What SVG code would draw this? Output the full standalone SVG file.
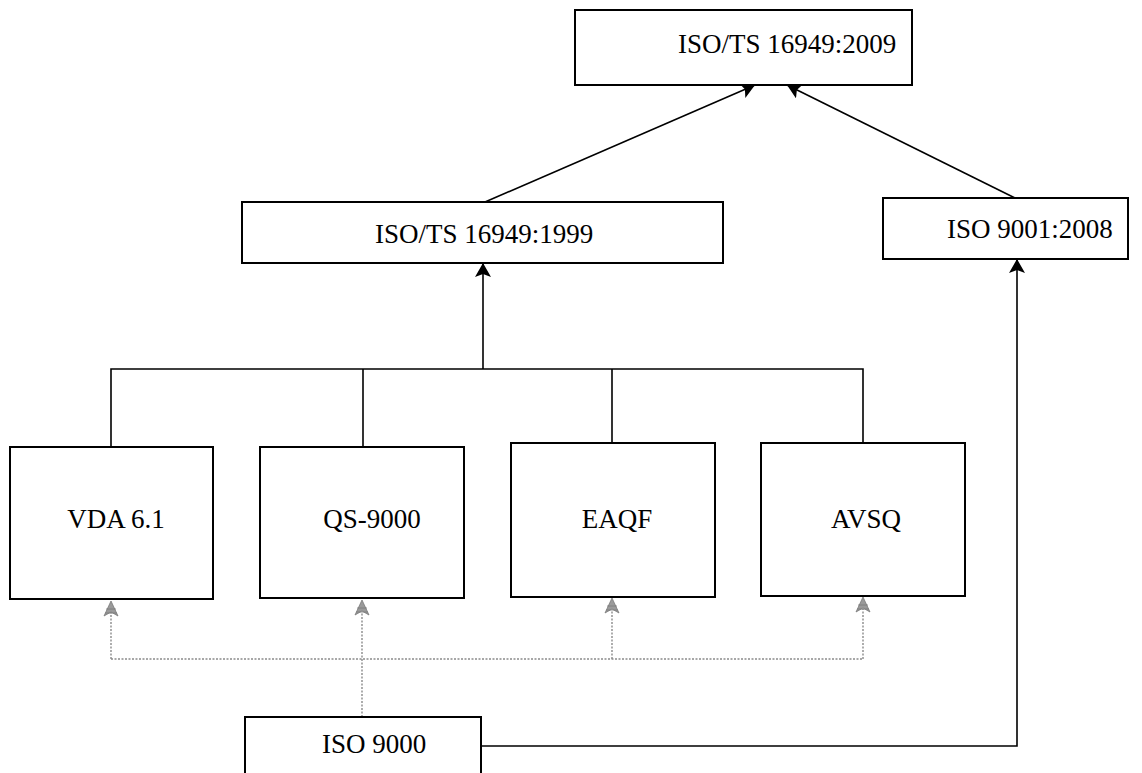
<svg xmlns="http://www.w3.org/2000/svg" width="1142" height="773" viewBox="0 0 1142 773">
<defs>
<style>
.box{fill:#fff;stroke:#000;stroke-width:2}
.t{font-family:"Liberation Serif","Times New Roman",serif;font-size:27px;fill:#000}
.c{fill:none;stroke:#000;stroke-width:1.6}
.d{fill:none;stroke:#8a8a8a;stroke-width:1.4;stroke-dasharray:2 1.5}
.ga{fill:#9a9a9a;stroke:#7a7a7a;stroke-width:0.8}
</style>
<marker id="ahs" markerWidth="14" markerHeight="16" viewBox="0 0 14 16" refX="14" refY="8" orient="auto" markerUnits="userSpaceOnUse">
<path d="M0,0 L14,8 L0,16 L3,8 Z" fill="#000"/>
</marker>
<path id="garrow" d="M0,0 L7,15 L0,11 L-7,15 Z M-5,8 L5,8 M-6,12 L6,12"/>
</defs>
<rect width="1142" height="773" fill="#fff"/>
<g id="connectors">
<line class="c" x1="485" y1="202" x2="755" y2="85" marker-end="url(#ahs)"/>
<line class="c" x1="1015" y1="198" x2="787" y2="85" marker-end="url(#ahs)"/>
<polyline class="c" points="111,447 111,369 863,369 863,443"/>
<line class="c" x1="363" y1="369" x2="363" y2="447"/>
<line class="c" x1="612" y1="369" x2="612" y2="443"/>
<line class="c" x1="483" y1="369" x2="483" y2="263" marker-end="url(#ahs)"/>
<polyline class="c" points="481,746 1017,746 1017,259" marker-end="url(#ahs)"/>
<line class="d" x1="111" y1="659" x2="863" y2="659"/>
<line class="d" x1="362" y1="717" x2="362" y2="612"/>
<line class="d" x1="111" y1="659" x2="111" y2="612"/>
<line class="d" x1="612" y1="659" x2="612" y2="610"/>
<line class="d" x1="863" y1="659" x2="863" y2="609"/>
<use href="#garrow" class="ga" x="111" y="601"/>
<use href="#garrow" class="ga" x="362" y="600"/>
<use href="#garrow" class="ga" x="612" y="598"/>
<use href="#garrow" class="ga" x="863" y="597"/>
</g>
<g id="n-iso16949-2009">
<rect class="box" x="575" y="10" width="337" height="75"/>
<text class="t" x="678" y="53">ISO/TS 16949:2009</text>
</g>
<g id="n-iso16949-1999">
<rect class="box" x="242" y="202" width="481" height="61"/>
<text class="t" x="375" y="243">ISO/TS 16949:1999</text>
</g>
<g id="n-iso9001">
<rect class="box" x="883" y="198" width="245" height="61"/>
<text class="t" x="947" y="238">ISO 9001:2008</text>
</g>
<g id="n-vda">
<rect class="box" x="10" y="447" width="203" height="152"/>
<text class="t" x="116" y="528" text-anchor="middle">VDA 6.1</text>
</g>
<g id="n-qs">
<rect class="box" x="260" y="447" width="204" height="151"/>
<text class="t" x="372" y="528" text-anchor="middle">QS-9000</text>
</g>
<g id="n-eaqf">
<rect class="box" x="511" y="443" width="204" height="154"/>
<text class="t" x="617" y="528" text-anchor="middle">EAQF</text>
</g>
<g id="n-avsq">
<rect class="box" x="761" y="443" width="204" height="153"/>
<text class="t" x="866" y="528" text-anchor="middle">AVSQ</text>
</g>
<g id="n-iso9000">
<rect class="box" x="245" y="717" width="236" height="60"/>
<text class="t" x="322" y="753">ISO 9000</text>
</g>
</svg>
